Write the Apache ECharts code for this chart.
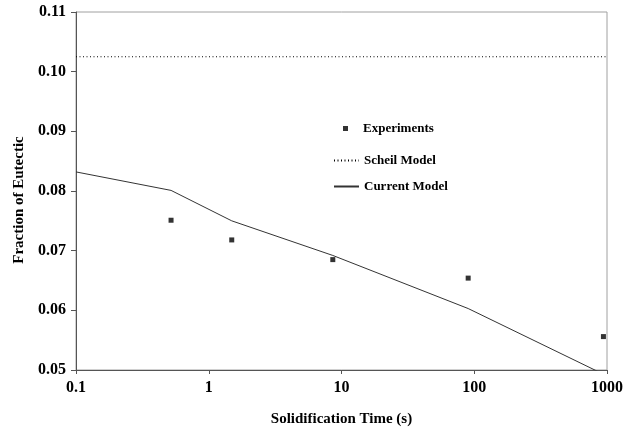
<!DOCTYPE html>
<html>
<head>
<meta charset="utf-8">
<script src="https://cdn.jsdelivr.net/npm/echarts@6/dist/echarts.min.js"></script>
<style>
  html, body { margin: 0; padding: 0; background: #fff; }
  #chart { width: 633px; height: 432px; }
</style>
</head>
<body>
<div id="chart"></div>
<script>
// Datos
const expTimes = [0.52, 1.49, 8.6, 90, 940];
const expFraction = [0.0751, 0.0718, 0.0685, 0.0654, 0.0556];

const scheilTimes = [0.1, 1000];
const scheilFraction = [0.1025, 0.1025];

const modelTimes = [0.1, 0.52, 1.49, 8.6, 90, 940];
const modelFraction = [0.0832, 0.0801, 0.0750, 0.0692, 0.0603, 0.0493];

const yTicks = [0.05, 0.06, 0.07, 0.08, 0.09, 0.10, 0.11];

const font = 'Liberation Serif';

function pairs(xs, ys) {
    return xs.map((x, i) => [x, ys[i]]);
}

const chart = echarts.init(document.getElementById('chart'));

const legendText = { fontFamily: font, fontWeight: 'bold', fontSize: 13, color: '#000' };

// Leyenda de lineas (sin simbolo en el medio)
function lineLegend(name, top) {
    return {
        data: [name],
        left: 328,
        top: top,
        itemWidth: 25,
        itemHeight: 6,
        selectedMode: false,
        itemStyle: { color: 'rgba(0,0,0,0)', borderWidth: 0 },
        textStyle: legendText
    };
}

chart.setOption({
    animation: false,
    backgroundColor: '#fff',
    grid: {
        left: 76, right: 26, top: 12, bottom: 57,
        show: true,
        borderColor: '#a0a0a0',
        borderWidth: 1
    },
    legend: [
        {
            data: [{ name: 'Experiments', icon: 'rect' }],
            left: 338,
            top: 117,
            itemWidth: 5,
            itemHeight: 5,
            selectedMode: false,
            textStyle: Object.assign({ padding: [0, 0, 0, 10] }, legendText)
        },
        lineLegend('Scheil Model', 149),
        lineLegend('Current Model', 175)
    ],
    xAxis: {
        type: 'log',
        logBase: 10,
        min: 0.1,
        max: 1000,
        name: 'Solidification Time (s)',
        nameLocation: 'middle',
        nameGap: 42,
        nameTextStyle: { fontFamily: font, fontWeight: 'bold', fontSize: 15, color: '#000' },
        axisLine: { lineStyle: { color: '#555', width: 1 } },
        axisTick: { length: 4, lineStyle: { color: '#555' } },
        minorTick: { show: false },
        splitLine: { show: false },
        axisLabel: {
            margin: 10,
            fontFamily: font, fontWeight: 'bold', fontSize: 16, color: '#000',
            formatter: v => String(Number(v.toPrecision(6)))
        }
    },
    yAxis: {
        type: 'value',
        min: yTicks[0],
        max: yTicks[yTicks.length - 1],
        interval: 0.01,
        name: 'Fraction of Eutectic',
        nameLocation: 'middle',
        nameGap: 44,
        nameTextStyle: {
            fontFamily: font, fontWeight: 'bold', fontSize: 15, color: '#000',
            padding: [0, 18, 0, 0]
        },
        axisLine: { show: true, lineStyle: { color: '#555', width: 1 } },
        axisTick: { show: true, length: 5, lineStyle: { color: '#555' } },
        splitLine: { show: false },
        axisLabel: {
            margin: 10,
            fontFamily: font, fontWeight: 'bold', fontSize: 16, color: '#000',
            formatter: v => v.toFixed(2)
        }
    },
    series: [
        {
            name: 'Experiments',
            type: 'scatter',
            symbol: 'rect',
            symbolSize: 5,
            itemStyle: { color: '#000' },
            data: pairs(expTimes, expFraction),
            z: 5
        },
        {
            name: 'Scheil Model',
            type: 'line',
            symbol: 'none',
            lineStyle: { color: '#000', width: 1, type: [1, 2.5] },
            itemStyle: { color: '#000' },
            data: pairs(scheilTimes, scheilFraction)
        },
        {
            name: 'Current Model',
            type: 'line',
            symbol: 'none',
            clip: true,
            lineStyle: { color: '#333', width: 1 },
            itemStyle: { color: '#333' },
            data: pairs(modelTimes, modelFraction)
        }
    ]
});
</script>
</body>
</html>
